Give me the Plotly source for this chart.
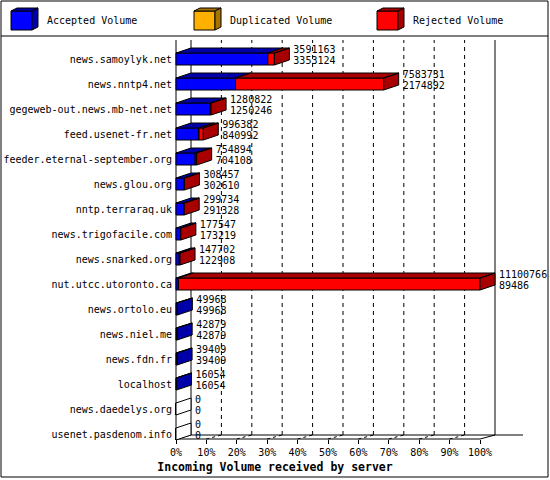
import plotly.graph_objects as go

# Incoming volume per server (bytes): total and accepted as printed next to the bars
servers = ["news.samoylyk.net", "news.nntp4.net", "gegeweb-out.news.mb-net.net",
           "feed.usenet-fr.net", "feeder.eternal-september.org", "news.glou.org",
           "nntp.terraraq.uk", "news.trigofacile.com", "news.snarked.org",
           "nut.utcc.utoronto.ca", "news.ortolo.eu", "news.niel.me", "news.fdn.fr",
           "localhost", "news.daedelys.org", "usenet.pasdenom.info"]
total_volume = [3591163, 7583731, 1280822, 996382, 754894, 308457, 299734, 177547,
                147702, 11100766, 49968, 42879, 39409, 16054, 0, 0]
accepted_volume = [3353124, 2174892, 1250246, 840992, 704108, 302610, 291328, 173219,
                   122908, 89486, 49968, 42879, 39409, 16054, 0, 0]
duplicated_volume = [0, 0, 0, 0, 0, 0, 0, 0, 0, 0, 0, 0, 0, 0, 0, 0]
pct_ticks = [0, 10, 20, 30, 40, 50, 60, 70, 80, 90, 100]
pct_labels = ["0%", "10%", "20%", "30%", "40%", "50%", "60%", "70%", "80%", "90%", "100%"]

series_names = ["Accepted Volume", "Duplicated Volume", "Rejected Volume"]
front_colors = ["#0000ff", "#ffb000", "#ff0000"]
shade_colors = ["#0000a8", "#a87400", "#a80000"]

FONT = "DejaVu Sans Mono"
W, H = 550, 480
X0, XS = 176, 3.04          # pixel of 0% and pixels per percent
Y0, YS = 59, 25             # pixel of first row centre and pixels per row
DX, DY = 15 / XS, 5 / YS    # depth of the 3d bars
FDY = 4 / YS                # depth drop of the floor
HALF = 6 / YS
WALL_TOP = (40 - Y0) / YS
FLOOR = (439 - Y0) / YS

rejected_volume = [t - a - d for t, a, d in zip(total_volume, accepted_volume, duplicated_volume)]
segments = [accepted_volume, duplicated_volume, rejected_volume]
top_val = max(total_volume)
rows = list(range(len(servers)))

fig = go.Figure()

# front faces
base = [0.0] * len(rows)
for name, seg, col in zip(series_names, segments, front_colors):
    pct = [v / top_val * 100 for v in seg]
    fig.add_trace(go.Bar(y=rows, x=pct, base=base, orientation="h", width=2 * HALF, name=name,
                         marker=dict(color=col, line=dict(color="black", width=1))))
    base = [b + p for b, p in zip(base, pct)]

# top and side faces
for k, (seg, col) in enumerate(zip(segments, shade_colors)):
    xs, ys = [], []
    for i in rows:
        if seg[i] <= 0:
            continue
        x0 = sum(segments[j][i] for j in range(k)) / top_val * 100
        x1 = x0 + seg[i] / top_val * 100
        top, bot = i - HALF, i + HALF
        xs += [x0, x0 + DX, x1 + DX, x1, x0, None]
        ys += [top, top - DY, top - DY, top, top, None]
        last = max(j for j in range(3) if segments[j][i] > 0)
        if last == k:
            xs += [x1, x1 + DX, x1 + DX, x1, x1, None]
            ys += [top, top - DY, bot - DY, bot, top, None]
    if xs:
        fig.add_trace(go.Scatter(x=xs, y=ys, fill="toself", fillcolor=col, mode="lines",
                                 line=dict(color="black", width=1), hoverinfo="skip"))

# empty servers still get a white side face
xs, ys = [], []
for i in rows:
    if total_volume[i] == 0:
        xs += [0, DX, DX, 0, 0, None]
        ys += [i - HALF, i - HALF - DY, i + HALF - DY, i + HALF, i - HALF, None]
fig.add_trace(go.Scatter(x=xs, y=ys, fill="toself", fillcolor="white", mode="lines",
                         line=dict(color="black", width=1), hoverinfo="skip"))

# value labels
lab_x = [t / top_val * 100 + DX + 4 / XS for t in total_volume]
fig.add_trace(go.Scatter(x=lab_x, y=[i - 9 / YS for i in rows], text=[str(v) for v in total_volume],
                         mode="text", textposition="middle right",
                         textfont=dict(family=FONT, size=10, color="black"), hoverinfo="skip"))
fig.add_trace(go.Scatter(x=lab_x, y=[i + 2 / YS for i in rows], text=[str(v) for v in accepted_volume],
                         mode="text", textposition="middle right",
                         textfont=dict(family=FONT, size=10, color="black"), hoverinfo="skip"))

# grid on the back wall and the floor
shapes = []
for t in pct_ticks[1:-1]:
    shapes.append(dict(type="line", xref="x", yref="y", x0=t + DX, x1=t + DX, y0=FLOOR - FDY, y1=WALL_TOP,
                       line=dict(color="black", width=1, dash="4px,4px"), layer="below"))
    shapes.append(dict(type="line", xref="x", yref="y", x0=t, x1=t + DX, y0=FLOOR, y1=FLOOR - FDY,
                       line=dict(color="black", width=1, dash="3px,3px"), layer="below"))
frame = [
    (0, WALL_TOP, 0, FLOOR),
    (DX, WALL_TOP, DX, FLOOR - FDY),
    (100 + DX, WALL_TOP, 100 + DX, FLOOR - FDY),
    (DX, FLOOR - FDY, 100 + DX + 28 / XS, FLOOR - FDY),
    (0, FLOOR, 100, FLOOR),
    (0, FLOOR, DX, FLOOR - FDY),
    (100, FLOOR, 100 + DX, FLOOR - FDY),
]
for a, b, c, d in frame:
    shapes.append(dict(type="line", xref="x", yref="y", x0=a, y0=b, x1=c, y1=d,
                       line=dict(color="black", width=1), layer="below"))


def pp(x, y):
    return x / W, 1 - y / H


# outer border and legend box
bx0, by0 = pp(1, 1)
bx1, by1 = pp(548, 477)
shapes.append(dict(type="rect", xref="paper", yref="paper", x0=bx0, y0=by0, x1=bx1, y1=by1,
                   line=dict(color="black", width=1)))
sx0, sy = pp(1, 36)
shapes.append(dict(type="line", xref="paper", yref="paper", x0=sx0, x1=bx1, y0=sy, y1=sy,
                   line=dict(color="black", width=1)))

annotations = []
legend_x = [11, 194, 377]
for lx, name, fc, sc in zip(legend_x, series_names, front_colors, shade_colors):
    fx0, fy0 = pp(lx, 11)
    fx1, fy1 = pp(lx + 21, 30)
    shapes.append(dict(type="rect", xref="paper", yref="paper", x0=fx0, y0=fy0, x1=fx1, y1=fy1,
                       fillcolor=fc, line=dict(color="black", width=1)))
    for poly in ([(lx, 11), (lx + 6, 8), (lx + 27, 8), (lx + 21, 11)],
                 [(lx + 21, 11), (lx + 27, 8), (lx + 27, 27), (lx + 21, 30)]):
        path = "M " + " L ".join("%.5f,%.5f" % pp(px, py) for px, py in poly) + " Z"
        shapes.append(dict(type="path", xref="paper", yref="paper", path=path,
                           fillcolor=sc, line=dict(color="black", width=1)))
    tx, ty = pp(lx + 34, 21)
    annotations.append(dict(xref="paper", yref="paper", x=tx, y=ty, text=name, showarrow=False,
                            xanchor="left", yanchor="middle",
                            font=dict(family=FONT, size=10, color="black")))

fig.update_layout(
    width=W, height=H,
    margin=dict(l=0, r=0, t=0, b=0),
    paper_bgcolor="white", plot_bgcolor="white",
    showlegend=False, barmode="overlay",
    font=dict(family=FONT, size=10, color="black"),
    shapes=shapes, annotations=annotations,
    xaxis=dict(range=[-X0 / XS, (W - X0) / XS], anchor="free", position=1 - 439 / H,
               tickvals=pct_ticks, ticktext=pct_labels, ticks="outside", ticklen=4,
               tickcolor="black", showgrid=False, zeroline=False, showline=False,
               automargin=False, fixedrange=True,
               title=dict(text="<b>Incoming Volume received by server</b>", standoff=5,
                          font=dict(family=FONT, size=11.5, color="black"))),
    yaxis=dict(range=[(H - Y0) / YS, -Y0 / YS], anchor="free", position=X0 / W,
               tickvals=rows, ticktext=servers, ticks="", ticklabelstandoff=4,
               showgrid=False, zeroline=False,
               showline=False, automargin=False, fixedrange=True),
)

# the page body has a default margin; drop it so the figure fills the window
fig.write_html("out.html", config={"displayModeBar": False},
               post_script="document.body.style.margin='0';")
